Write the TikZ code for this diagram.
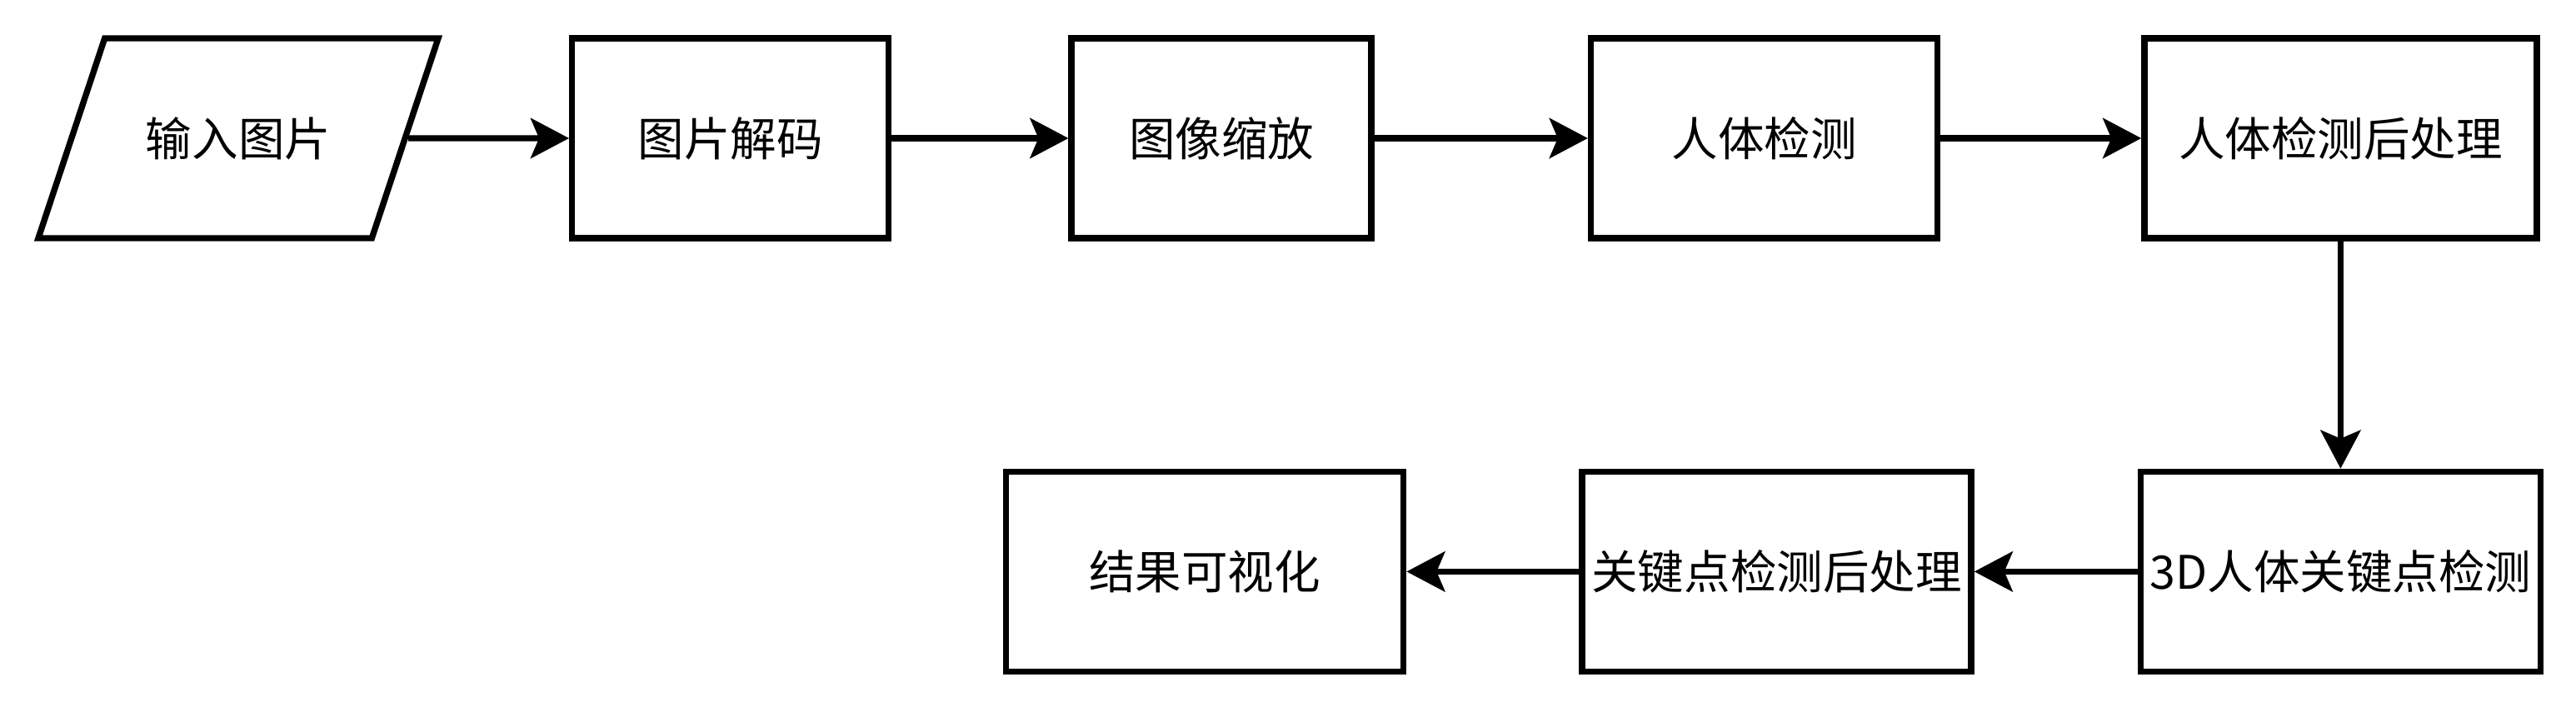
\documentclass[tikz,border=0pt]{standalone}
\usepackage{fontspec}
\setmainfont{Noto Sans CJK SC}
\usetikzlibrary{positioning,shapes.geometric,arrows.meta}

\begin{document}
\begin{tikzpicture}[
    box/.style={draw,line width=2.1pt,minimum height=2.4cm,inner sep=0pt,
      align=center,font=\fontsize{15.8}{19}\selectfont},
    io/.style={box,trapezium,trapezium left angle=71,trapezium right angle=109,
      trapezium stretches body=true,inner ysep=0.9cm,minimum width=4.8cm},
    arrow/.style={-{Stealth[length=4.6mm,width=4.8mm,inset=1mm]},line width=2.1pt}
  ]
    \useasboundingbox (0,0) rectangle (30.92,-8.48);
    % top row
    \node[io] (input) at (2.86,-1.66) {输入图片};
    \node[box,minimum width=3.8cm,right=1.93cm of input] (decode) {图片解码};
    \node[box,minimum width=3.6cm,right=2.12cm of decode] (resize) {图像缩放};
    \node[box,minimum width=4.16cm,right=2.56cm of resize] (det) {人体检测};
    \node[box,minimum width=4.71cm,right=2.41cm of det] (detpost) {人体检测后处理};
    % bottom row
    \node[box,minimum width=4.8cm,below=2.73cm of detpost] (kpt) {3D人体关键点检测};
    \node[box,minimum width=4.67cm,left=1.96cm of kpt] (kptpost) {关键点检测后处理};
    \node[box,minimum width=4.77cm,left=2.07cm of kptpost] (vis) {结果可视化};
    \draw[arrow] (input) -- (decode);
    \draw[arrow] (decode) -- (resize);
    \draw[arrow] (resize) -- (det);
    \draw[arrow] (det) -- (detpost);
    \draw[arrow] (detpost) -- (kpt);
    \draw[arrow] (kpt) -- (kptpost);
    \draw[arrow] (kptpost) -- (vis);
  \end{tikzpicture}
\end{document}
